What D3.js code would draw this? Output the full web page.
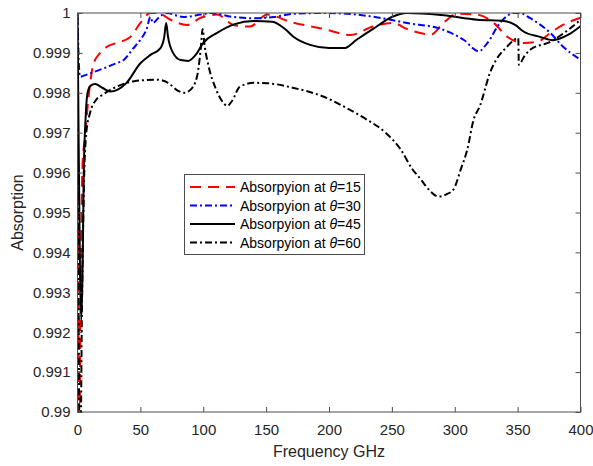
<!DOCTYPE html>
<html>
<head>
<meta charset="utf-8">
<script src="https://cdn.jsdelivr.net/npm/d3@7/dist/d3.min.js"></script>
<style>
html,body{margin:0;padding:0;background:#fff;}
svg{display:block;font-family:"Liberation Sans",Arial,sans-serif;}
</style>
</head>
<body>
<svg id="chart" width="593" height="466"></svg>
<script>
// ---- data ----
const xTicks = [0, 50, 100, 150, 200, 250, 300, 350, 400];
const yTicks = [0.99, 0.991, 0.992, 0.993, 0.994, 0.995, 0.996, 0.997, 0.998, 0.999, 1];
const yTickLabels = ["0.99", "0.991", "0.992", "0.993", "0.994", "0.995", "0.996", "0.997", "0.998", "0.999", "1"];
const seriesNames = ["Absorpyion at θ=15", "Absorpyion at θ=30", "Absorpyion at θ=45", "Absorpyion at θ=60"];

const freq15 = [0, 0.7, 1.5, 2.5, 4, 6, 8.5, 12.5, 18, 25, 31, 42, 50, 58, 64, 74, 87, 98, 111, 124, 137, 151, 169, 196, 217, 235, 251, 262, 281, 291, 302, 318, 331, 342, 355, 366, 376, 386, 400];
const abs15 = [0.9996, 0.9925, 0.9895, 0.993, 0.9962, 0.9969, 0.9978, 0.9987, 0.9990, 0.99918, 0.99925, 0.9994, 0.99975, 1.0, 1.0, 0.99983, 0.9997, 0.99988, 0.99996, 0.9997, 0.99966, 0.99996, 0.99978, 0.9996, 0.99945, 0.99966, 0.99975, 0.9996, 0.99946, 0.99975, 0.99998, 0.99996, 0.99975, 0.9994, 0.99925, 0.99928, 0.9995, 0.9997, 0.99988];

const freq30 = [0, 0.5, 1, 2, 5, 18, 30, 37, 44, 50, 55, 58, 60, 65, 71, 84, 98, 106, 124, 140, 156, 172, 196, 222, 249, 262, 289, 307, 319, 326, 336, 347, 352, 360, 376, 386, 400];
const abs30 = [0.99988, 0.9993, 0.9988, 0.9984, 0.99843, 0.99858, 0.99873, 0.99883, 0.9991, 0.99933, 0.9996, 0.9999, 0.99975, 0.9999, 1.0, 0.9999, 0.99996, 1.0, 0.9999, 0.99987, 0.9999, 0.99998, 1.0, 0.99996, 0.99983, 0.99975, 0.9996, 0.99933, 0.99904, 0.99925, 0.99975, 1.0, 1.0, 0.99987, 0.9995, 0.99916, 0.99883];

const freq45 = [0, 1, 2, 3, 4, 5, 6.5, 8, 10.5, 14, 20, 26, 32, 39, 50, 58, 66, 69, 70.5, 72, 76, 82, 88, 94, 100, 111, 125, 140, 155, 165, 172, 185, 200, 212, 222, 235, 250, 262, 289, 318, 339, 348, 355, 368, 378, 390, 400];
const abs45 = [1.0, 0.9965, 0.9935, 0.9923, 0.9935, 0.996, 0.9974, 0.9980, 0.99818, 0.99822, 0.99812, 0.99803, 0.99808, 0.99825, 0.99874, 0.99895, 0.99912, 0.9994, 0.99975, 0.9994, 0.9990, 0.99882, 0.9988, 0.99895, 0.99925, 0.9995, 0.99972, 0.9998, 0.99978, 0.9996, 0.9994, 0.9992, 0.99912, 0.99912, 0.99933, 0.9996, 0.9999, 1.0, 0.99995, 0.99983, 0.9998, 0.9997, 0.99953, 0.9994, 0.99932, 0.99945, 0.99967];

const freq60 = [0, 0.5, 1, 1.5, 2.5, 3.5, 5, 7, 10, 15, 20, 29, 45, 63, 72, 80, 85, 90, 95, 98, 99.5, 101, 104, 110, 116, 119, 123, 129, 140, 151, 172, 196, 215, 230, 245, 257, 266, 273, 280, 287, 293, 299, 305, 310, 315, 320, 328, 342, 350.5, 351, 355, 360, 376, 392, 400];
const abs60 = [1.0, 0.996, 0.992, 0.9895, 0.9895, 0.9925, 0.9955, 0.997, 0.9975, 0.99783, 0.99795, 0.99812, 0.99829, 0.99833, 0.99825, 0.99805, 0.998, 0.99808, 0.9984, 0.9991, 0.9996, 0.9992, 0.9987, 0.9981, 0.99775, 0.99767, 0.9978, 0.99815, 0.99825, 0.99824, 0.99812, 0.9979, 0.9976, 0.99733, 0.9970, 0.99658, 0.9961, 0.99583, 0.99555, 0.9954, 0.99545, 0.99558, 0.9961, 0.99658, 0.99733, 0.99767, 0.9985, 0.99917, 0.99937, 0.9987, 0.9989, 0.99908, 0.99928, 0.99962, 0.99983];

// ---- layout ----
const svg = d3.select("#chart");
const L = 77.5, R = 580.5, T = 13, B = 412;
const x = d3.scaleLinear().domain([0, 400]).range([L, R]);
const y = d3.scaleLinear().domain([0.99, 1]).range([B, T]);
const axisColor = "#4d4d4d";
const textColor = "#262626";

svg.append("defs").append("clipPath").attr("id", "clip")
  .append("rect").attr("x", L).attr("y", T).attr("width", R - L).attr("height", B - T);

const styles = [
  {color: "#ff0000", dash: "11,7", width: 2},
  {color: "#0000ff", dash: "7,3,2,3", width: 2},
  {color: "#000000", dash: null, width: 2},
  {color: "#000000", dash: "7,3,2,3", width: 2}
];
const series = [
  d3.zip(freq15, abs15),
  d3.zip(freq30, abs30),
  d3.zip(freq45, abs45),
  d3.zip(freq60, abs60)
];

const line = d3.line().x(d => x(d[0])).y(d => y(d[1])).curve(d3.curveMonotoneX);
const plot = svg.append("g").attr("clip-path", "url(#clip)");
series.forEach((s, i) => {
  plot.append("path").datum(s)
    .attr("d", line)
    .attr("fill", "none")
    .attr("stroke", styles[i].color)
    .attr("stroke-width", styles[i].width)
    .attr("stroke-dasharray", styles[i].dash)
    .attr("stroke-linejoin", "round");
});

// ---- axes ----
const tickLen = 5;
const axBottom = d3.axisBottom(x).tickValues(xTicks).tickSize(-tickLen).tickPadding(12).tickFormat(d3.format("d"));
const axTop = d3.axisTop(x).tickValues(xTicks).tickSize(-tickLen).tickFormat("");
const axLeft = d3.axisLeft(y).tickValues(yTicks).tickSize(-tickLen).tickPadding(7).tickFormat((d, i) => yTickLabels[i]);
const axRight = d3.axisRight(y).tickValues(yTicks).tickSize(-tickLen).tickFormat("");

function styleAxis(g) {
  g.select(".domain").remove();
  g.selectAll(".tick line").attr("stroke", axisColor).attr("stroke-width", 1);
  g.selectAll(".tick text").attr("fill", textColor).style("font-size", "15px")
    .style("font-family", "'Liberation Sans', Arial, sans-serif");
}
svg.append("g").attr("transform", `translate(0,${B})`).call(axBottom).call(styleAxis);
svg.append("g").attr("transform", `translate(0,${T})`).call(axTop).call(styleAxis);
svg.append("g").attr("transform", `translate(${L},0)`).call(axLeft).call(styleAxis);
svg.append("g").attr("transform", `translate(${R},0)`).call(axRight).call(styleAxis);

svg.append("rect").attr("x", L).attr("y", T).attr("width", R - L).attr("height", B - T)
  .attr("fill", "none").attr("stroke", axisColor).attr("stroke-width", 1);

// ---- axis labels ----
svg.append("text").attr("x", (L + R) / 2).attr("y", 457).attr("text-anchor", "middle")
  .attr("fill", textColor).style("font-size", "16px").text("Frequency GHz");
svg.append("text").attr("transform", `translate(23,${(T + B) / 2}) rotate(-90)`).attr("text-anchor", "middle")
  .attr("fill", textColor).style("font-size", "16px").text("Absorption");

// ---- legend ----
const lg = svg.append("g");
lg.append("rect").attr("x", 184.5).attr("y", 174.5).attr("width", 180).attr("height", 80)
  .attr("fill", "#fff").attr("stroke", axisColor).attr("stroke-width", 1);
seriesNames.forEach((name, i) => {
  const yy = 187 + i * 18.5;
  lg.append("line").attr("x1", 190).attr("x2", 235).attr("y1", yy).attr("y2", yy)
    .attr("stroke", styles[i].color).attr("stroke-width", styles[i].width)
    .attr("stroke-dasharray", styles[i].dash);
  const t = lg.append("text").attr("x", 240).attr("y", yy + 5).attr("fill", "#000").style("font-size", "14px");
  const parts = name.split("θ");
  t.append("tspan").text(parts[0]);
  t.append("tspan").style("font-style", "italic").text("θ");
  t.append("tspan").text(parts[1]);
});
</script>
</body>
</html>
